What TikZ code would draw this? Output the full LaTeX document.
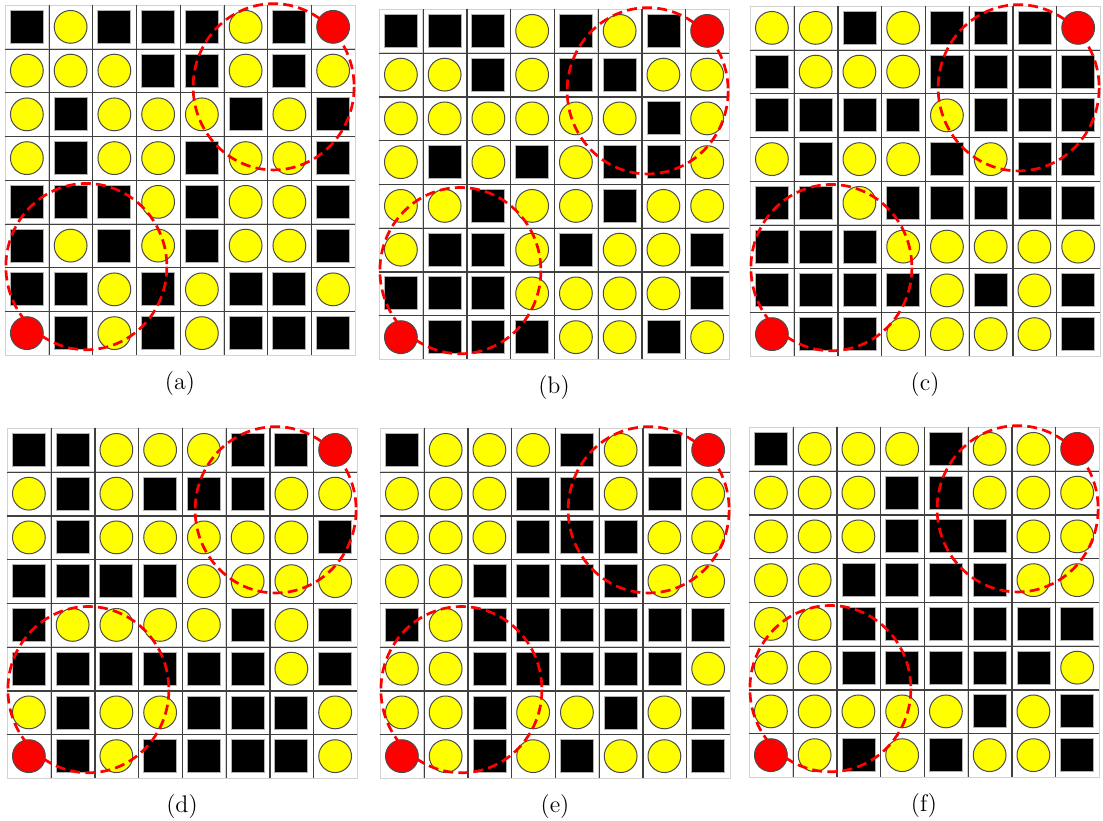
\documentclass[tikz,border=0pt]{standalone}
\usepackage{tikz}
\usetikzlibrary{positioning, calc}
\definecolor{dotyellow}{RGB}{255,255,0}
\definecolor{dotred}{RGB}{255,0,0}
\tikzset{
  cell/.style={rectangle, draw=gray!35, fill=white, minimum size=21.875pt, inner sep=0pt},
  pieceB/.style={rectangle, draw=gray!60, fill=black, minimum size=16.5pt, inner sep=0pt, line width=0.4pt},
  pieceY/.style={circle, draw=black!70, fill=dotyellow, minimum size=16.4pt, inner sep=0pt, line width=0.5pt},
  pieceR/.style={circle, draw=black!70, fill=dotred, minimum size=16.4pt, inner sep=0pt, line width=0.5pt},
  gridln/.style={black!75, line width=0.6pt},
  ring/.style={dotred, line width=1.35pt, dash pattern=on 5pt off 2.6pt},
  lbl/.style={font=\large, inner sep=0pt},
}

% #1 name, #2/#3 top left corner, #4 caption, #5 rows (top to bottom)
\newcommand{\board}[5]{%
  \begin{scope}[shift={(#2,#3)}]
    \foreach \row [count=\r] in {#5} {
      \foreach \p [count=\k] in \row {
        \node[cell] (#1-\r-\k) at (\k-0.5,\r-0.5) {};
        \node[piece\p] (#1-\r-\k-p) at (#1-\r-\k) {};
      }
    }
    \foreach \i in {1,...,7} {
      \draw[gridln] (#1-1-\i.north east) -- (#1-8-\i.south east);
      \draw[gridln] (#1-\i-1.south west) -- (#1-\i-8.south east);
    }
    \draw[ring] (6.14,1.87) ellipse [x radius=1.84, y radius=1.9];
    \draw[ring] (1.86,5.98) ellipse [x radius=1.84, y radius=1.9];
    \node[lbl] (#1-cap) at (4,8.65) {#4};
  \end{scope}
}

\begin{document}
\begin{tikzpicture}[x=21.875pt, y=-21.875pt]
  \useasboundingbox (0,0) rectangle (25.211,18.743);

  \board{a}{0.114}{0.114}{(a)}{
    {B,Y,B,B,B,Y,B,R},{Y,Y,Y,B,B,Y,B,Y},{Y,B,Y,Y,Y,B,Y,B},{Y,B,Y,Y,B,Y,Y,B},
    {B,B,B,Y,B,Y,Y,B},{B,Y,B,Y,B,Y,Y,B},{B,B,Y,B,Y,B,B,Y},{R,B,Y,B,Y,B,B,B}}
  \board{b}{8.663}{0.206}{(b)}{
    {B,B,B,Y,B,Y,B,R},{Y,Y,B,Y,B,B,Y,Y},{Y,Y,Y,Y,Y,Y,B,Y},{Y,B,Y,B,Y,B,B,Y},
    {Y,Y,B,Y,Y,B,Y,Y},{Y,B,B,Y,B,Y,Y,B},{B,B,B,Y,Y,Y,Y,B},{R,B,B,B,Y,Y,B,Y}}
  \board{c}{17.143}{0.137}{(c)}{
    {Y,Y,B,Y,B,B,B,R},{B,Y,Y,Y,B,B,B,B},{B,B,B,B,Y,B,B,B},{Y,B,Y,Y,B,Y,B,B},
    {B,B,Y,B,B,B,B,B},{B,B,B,Y,Y,Y,Y,Y},{B,B,B,B,Y,B,Y,B},{R,B,B,Y,Y,Y,Y,B}}
  \board{d}{0.16}{9.783}{(d)}{
    {B,B,Y,Y,Y,B,B,R},{Y,B,Y,B,B,B,Y,Y},{Y,B,Y,Y,Y,Y,Y,B},{B,B,B,B,Y,Y,Y,Y},
    {B,Y,Y,Y,Y,B,Y,B},{B,B,B,B,B,B,Y,B},{Y,B,Y,Y,B,B,B,Y},{R,B,Y,B,B,B,B,Y}}
  \board{e}{8.686}{9.783}{(e)}{
    {B,Y,Y,Y,B,Y,B,R},{Y,Y,Y,B,B,Y,B,Y},{Y,Y,Y,B,B,B,Y,Y},{Y,Y,B,B,B,B,Y,Y},
    {B,Y,B,B,B,B,B,B},{Y,Y,B,B,B,B,B,Y},{Y,Y,B,Y,Y,B,Y,B},{R,Y,B,Y,B,Y,Y,B}}
  \board{f}{17.12}{9.76}{(f)}{
    {B,Y,Y,Y,B,Y,Y,R},{Y,Y,Y,B,B,Y,Y,Y},{Y,Y,Y,B,B,B,Y,Y},{Y,Y,B,B,B,B,Y,Y},
    {Y,Y,B,B,B,B,B,B},{Y,Y,B,B,B,B,B,Y},{Y,Y,Y,Y,Y,B,Y,B},{R,Y,B,Y,B,Y,Y,B}}
\end{tikzpicture}
\end{document}
